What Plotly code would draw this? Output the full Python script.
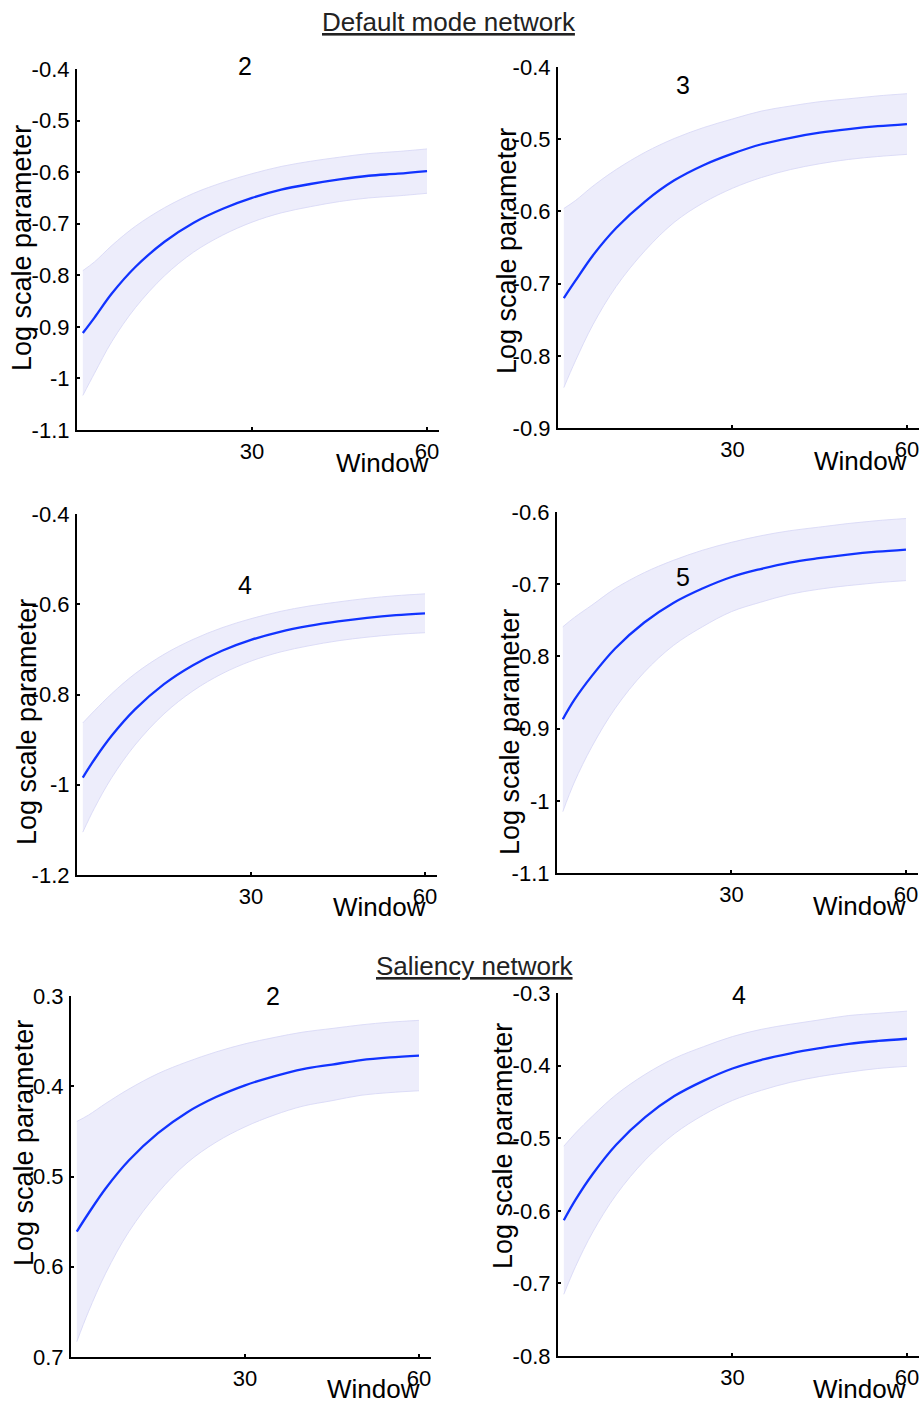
import plotly.graph_objects as go

W, H = 921, 1403
FONT = "Liberation Sans, Arial, sans-serif"

# ---- data ----
window = [1, 3, 6, 10, 15, 20, 25, 30, 35, 40, 45, 50, 55, 60]

dmn2_mean = [-0.912, -0.882, -0.835, -0.784, -0.735, -0.698, -0.671, -0.650, -0.634, -0.623, -0.614, -0.607, -0.603, -0.598]
dmn2_upper = [-0.791, -0.774, -0.742, -0.705, -0.669, -0.641, -0.620, -0.603, -0.589, -0.579, -0.571, -0.564, -0.560, -0.555]
dmn2_lower = [-1.033, -0.990, -0.928, -0.863, -0.801, -0.755, -0.722, -0.697, -0.679, -0.667, -0.657, -0.650, -0.646, -0.641]

dmn3_mean = [-0.720, -0.696, -0.661, -0.623, -0.586, -0.557, -0.536, -0.520, -0.507, -0.498, -0.491, -0.486, -0.482, -0.479]
dmn3_upper = [-0.596, -0.585, -0.565, -0.542, -0.518, -0.499, -0.484, -0.472, -0.461, -0.454, -0.448, -0.444, -0.440, -0.437]
dmn3_lower = [-0.844, -0.807, -0.757, -0.704, -0.654, -0.615, -0.588, -0.568, -0.553, -0.542, -0.534, -0.528, -0.524, -0.521]

dmn4_mean = [-0.984, -0.944, -0.891, -0.833, -0.777, -0.735, -0.703, -0.679, -0.661, -0.648, -0.638, -0.630, -0.624, -0.620]
dmn4_upper = [-0.863, -0.836, -0.798, -0.754, -0.711, -0.678, -0.652, -0.632, -0.616, -0.604, -0.595, -0.587, -0.581, -0.577]
dmn4_lower = [-1.105, -1.052, -0.984, -0.912, -0.843, -0.792, -0.754, -0.726, -0.706, -0.692, -0.681, -0.673, -0.667, -0.663]

dmn5_mean = [-0.887, -0.860, -0.827, -0.789, -0.753, -0.726, -0.706, -0.690, -0.679, -0.670, -0.664, -0.659, -0.655, -0.652]
dmn5_upper = [-0.759, -0.746, -0.729, -0.706, -0.684, -0.667, -0.653, -0.642, -0.633, -0.626, -0.621, -0.616, -0.612, -0.609]
dmn5_lower = [-1.015, -0.974, -0.925, -0.872, -0.822, -0.785, -0.759, -0.738, -0.725, -0.714, -0.707, -0.702, -0.698, -0.695]

sn2_mean = [-0.561, -0.541, -0.513, -0.482, -0.452, -0.429, -0.412, -0.399, -0.389, -0.381, -0.376, -0.371, -0.368, -0.366]
sn2_upper = [-0.439, -0.432, -0.419, -0.403, -0.386, -0.373, -0.362, -0.353, -0.346, -0.340, -0.336, -0.332, -0.329, -0.327]
sn2_lower = [-0.683, -0.650, -0.607, -0.561, -0.518, -0.485, -0.462, -0.445, -0.432, -0.422, -0.416, -0.410, -0.407, -0.405]

sn4_mean = [-0.613, -0.585, -0.549, -0.509, -0.471, -0.442, -0.421, -0.404, -0.392, -0.383, -0.376, -0.370, -0.366, -0.363]
sn4_upper = [-0.511, -0.493, -0.469, -0.440, -0.412, -0.390, -0.374, -0.360, -0.350, -0.343, -0.337, -0.331, -0.328, -0.325]
sn4_lower = [-0.715, -0.677, -0.629, -0.578, -0.530, -0.494, -0.468, -0.448, -0.434, -0.423, -0.415, -0.409, -0.404, -0.401]

panel_titles = ["2", "3", "4", "5", "2", "4"]
section_titles = ["Default mode network", "Saliency network"]
x_tickvals = [30, 60]
x_ticktext = ["30", "60"]
y_label = "Log scale parameter"
x_label = "Window"

y_ticks = [
    ([-0.4, -0.5, -0.6, -0.7, -0.8, -0.9, -1.0, -1.1], ["-0.4", "-0.5", "-0.6", "-0.7", "-0.8", "-0.9", "-1", "-1.1"]),
    ([-0.4, -0.5, -0.6, -0.7, -0.8, -0.9], ["-0.4", "-0.5", "-0.6", "-0.7", "-0.8", "-0.9"]),
    ([-0.4, -0.6, -0.8, -1.0, -1.2], ["-0.4", "-0.6", "-0.8", "-1", "-1.2"]),
    ([-0.6, -0.7, -0.8, -0.9, -1.0, -1.1], ["-0.6", "-0.7", "-0.8", "-0.9", "-1", "-1.1"]),
    ([-0.3, -0.4, -0.5, -0.6, -0.7], ["0.3", "0.4", "0.5", "0.6", "0.7"]),
    ([-0.3, -0.4, -0.5, -0.6, -0.7, -0.8], ["-0.3", "-0.4", "-0.5", "-0.6", "-0.7", "-0.8"]),
]

panels = [
    (dmn2_mean, dmn2_upper, dmn2_lower),
    (dmn3_mean, dmn3_upper, dmn3_lower),
    (dmn4_mean, dmn4_upper, dmn4_lower),
    (dmn5_mean, dmn5_upper, dmn5_lower),
    (sn2_mean, sn2_upper, sn2_lower),
    (sn4_mean, sn4_upper, sn4_lower),
]

# ---- layout geometry (pixels) ----
geom = [
    (77, 438.7, 69, 430),
    (558, 918.6, 67, 428),
    (77, 436.6, 514, 875),
    (557, 917.6, 512, 873),
    (71, 430.6, 996, 1357),
    (558, 918.6, 993, 1356),
]
title_pos = [(245, 66), (683, 85), (245, 585), (683, 577), (273, 996), (739, 995)]
ylab_pos = [(22, 248), (507, 251), (27, 722), (510, 732), (24, 1143), (503, 1146)]
xlab_pos = [(431, 463), (909, 461), (428, 907), (908, 906), (422, 1389), (908, 1389)]
section_pos = [(449, 22), (475, 966)]


def fx(px):
    return px / W


def fy(py):
    return 1 - py / H


fig = go.Figure()
layout = dict(
    width=W, height=H,
    margin=dict(l=0, r=0, t=0, b=0, pad=0, autoexpand=False),
    paper_bgcolor="white", plot_bgcolor="white",
    showlegend=False,
    font=dict(family=FONT, color="black"),
)

annotations = []
for i, ((mean, up, lo), (x0, x1, yt, yb), (tv, tt)) in enumerate(zip(panels, geom, y_ticks)):
    n = i + 1
    xa = "x" if n == 1 else f"x{n}"
    ya = "y" if n == 1 else f"y{n}"
    fig.add_trace(go.Scatter(
        x=window, y=lo, xaxis=xa, yaxis=ya, mode="lines",
        line=dict(color="#d9d9f6", width=0.9, shape="spline", smoothing=1.0),
        hoverinfo="skip",
    ))
    fig.add_trace(go.Scatter(
        x=window, y=up, xaxis=xa, yaxis=ya, mode="lines", fill="tonexty",
        fillcolor="#ededfb",
        line=dict(color="#d9d9f6", width=0.9, shape="spline", smoothing=1.0),
        hoverinfo="skip",
    ))
    fig.add_trace(go.Scatter(
        x=window, y=mean, xaxis=xa, yaxis=ya, mode="lines",
        line=dict(color="#1133ff", width=2.3, shape="spline", smoothing=1.0),
    ))
    xkey = "xaxis" if n == 1 else f"xaxis{n}"
    ykey = "yaxis" if n == 1 else f"yaxis{n}"
    layout[xkey] = dict(
        domain=[fx(x0), fx(x1)], anchor=ya, range=[0, 62], automargin=False,
        showline=True, linecolor="black", linewidth=2.2,
        showgrid=False, zeroline=False,
        ticks="inside", ticklen=3, tickwidth=2, tickcolor="black",
        tickvals=x_tickvals, ticktext=x_ticktext,
        tickfont=dict(family=FONT, size=22, color="black"),
        ticklabelstandoff=0,
    )
    layout[ykey] = dict(
        domain=[fy(yb), fy(yt)], anchor=xa, range=[tv[-1], tv[0]], automargin=False,
        showline=True, linecolor="black", linewidth=2.2,
        showgrid=False, zeroline=False,
        ticks="inside", ticklen=3, tickwidth=2, tickcolor="black",
        tickvals=tv, ticktext=tt,
        tickfont=dict(family=FONT, size=22, color="black"),
        ticklabelstandoff=1,
    )
    tx, ty = title_pos[i]
    annotations.append(dict(text=panel_titles[i], x=fx(tx), y=fy(ty), xref="paper", yref="paper",
                            showarrow=False, xanchor="center", yanchor="middle",
                            font=dict(family=FONT, size=25, color="black")))
    lx, ly = ylab_pos[i]
    annotations.append(dict(text=y_label, x=fx(lx), y=fy(ly), xref="paper", yref="paper",
                            showarrow=False, xanchor="center", yanchor="middle", textangle=-90,
                            font=dict(family=FONT, size=27, color="black")))
    wx, wy = xlab_pos[i]
    annotations.append(dict(text=x_label, x=fx(wx), y=fy(wy), xref="paper", yref="paper",
                            showarrow=False, xanchor="right", yanchor="middle",
                            font=dict(family=FONT, size=26, color="black")))

for t, (sx, sy) in zip(section_titles, section_pos):
    annotations.append(dict(text=f"<u>{t}</u>", x=fx(sx), y=fy(sy), xref="paper", yref="paper",
                            showarrow=False, xanchor="center", yanchor="middle",
                            font=dict(family=FONT, size=26, color="#222222")))

layout["annotations"] = annotations
fig.update_layout(**layout)
fig.write_html("out.html")
